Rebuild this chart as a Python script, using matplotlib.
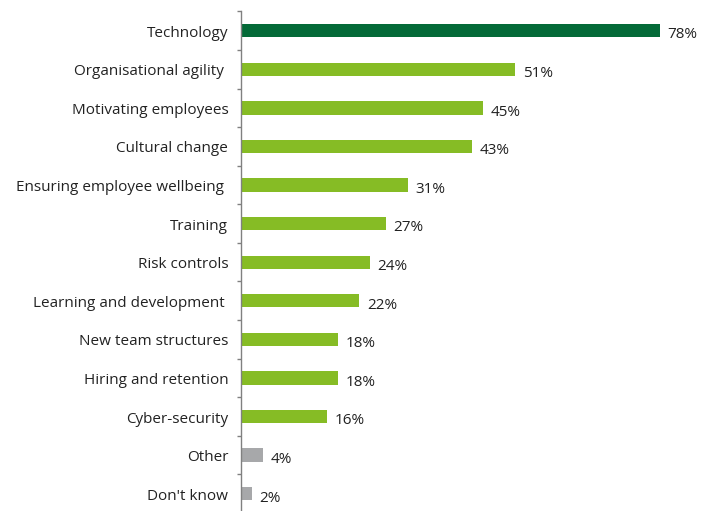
import matplotlib
matplotlib.use("Agg")
import matplotlib.pyplot as plt

plt.rcParams['font.family'] = ['Open Sans', 'DejaVu Sans']

categories = [
    "Technology",
    "Organisational agility ",
    "Motivating employees",
    "Cultural change",
    "Ensuring employee wellbeing ",
    "Training",
    "Risk controls",
    "Learning and development ",
    "New team structures",
    "Hiring and retention",
    "Cyber-security",
    "Other",
    "Don't know",
]
values = [78, 51, 45, 43, 31, 27, 24, 22, 18, 18, 16, 4, 2]
value_labels = ["78%", "51%", "45%", "43%", "31%", "27%", "24%", "22%",
                "18%", "18%", "16%", "4%", "2%"]

DARK_GREEN = "#046A38"
LIGHT_GREEN = "#86BC25"
GREY = "#A7A8AA"
colors = [DARK_GREEN] + [LIGHT_GREEN] * 10 + [GREY] * 2

W, H = 713, 511
fig = plt.figure(figsize=(W / 100, H / 100), dpi=100)

px_per_unit = (660 - 241.3) / 78
x_max = 80
left_px, top_px, bottom_px = 241.3, 11.4, 513.0
ax = fig.add_axes([left_px / W, (H - bottom_px) / H,
                   x_max * px_per_unit / W, (bottom_px - top_px) / H])

n = len(categories)
row_px = (bottom_px - top_px) / n
cat_shift = 6.0 / row_px   # baseline of category labels below bar centre
val_shift = 7.8 / row_px   # baseline of value labels below bar centre

ypos = list(range(n))
ax.barh(ypos, values, height=0.345, color=colors, zorder=2)
ax.set_xlim(0, x_max)
ax.set_ylim(n - 0.5, -0.5)

# Category labels right-aligned next to the axis
for y, cat in zip(ypos, categories):
    ax.text(-13 / px_per_unit, y + cat_shift, cat, ha="right",
            va="baseline", fontsize=11, color="#222222", clip_on=False)

# Value labels just past each bar end
for y, v, lab in zip(ypos, values, value_labels):
    ax.text(v + 7.5 / px_per_unit, y + val_shift, lab, ha="left",
            va="baseline", fontsize=11, color="#222222", clip_on=False)

for s in ["top", "right", "bottom"]:
    ax.spines[s].set_visible(False)
ax.spines["left"].set_color("#808080")
ax.spines["left"].set_linewidth(1.0)

ax.set_xticks([])
ax.set_yticks([i - 0.5 for i in range(n + 1)])
ax.set_yticklabels([])
ax.tick_params(axis="y", length=3, width=1.0, color="#808080", direction="out")

fig.savefig("out.png", dpi=100)
